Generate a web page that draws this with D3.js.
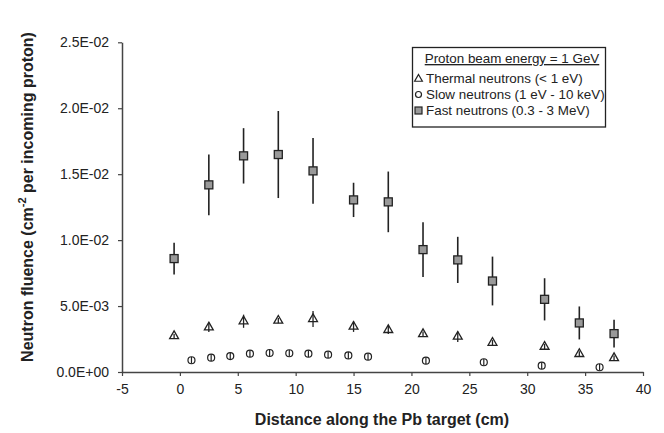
<!DOCTYPE html>
<html>
<head>
<meta charset="utf-8">
<script src="https://cdn.jsdelivr.net/npm/d3@7"></script>
<style>
  body { margin: 0; background: #fff; }
  svg { display: block; font-family: Arial, "Liberation Sans", sans-serif; }
</style>
</head>
<body>
<svg width="664" height="433"></svg>
<script>
// distance along the target (cm) and fluence (per cm2 per incoming proton)
var fastX   = [-0.5, 2.5, 5.5, 8.5, 11.5, 15, 18, 21, 24, 27, 31.5, 34.5, 37.5];
var fastY   = [8.6e-3, 14.19e-3, 16.39e-3, 16.49e-3, 15.25e-3, 13.05e-3, 12.9e-3, 9.28e-3, 8.5e-3, 6.9e-3, 5.51e-3, 3.72e-3, 2.91e-3];
var fastErr = [1.2e-3, 2.3e-3, 2.1e-3, 3.3e-3, 2.5e-3, 1.3e-3, 2.3e-3, 2.07e-3, 1.75e-3, 1.85e-3, 1.6e-3, 1.25e-3, 1.05e-3];

var thermX   = [-0.5, 2.5, 5.5, 8.5, 11.5, 15, 18, 21, 24, 27, 31.5, 34.5, 37.5];
var thermY   = [2.73e-3, 3.39e-3, 3.85e-3, 3.9e-3, 4.02e-3, 3.44e-3, 3.19e-3, 2.88e-3, 2.68e-3, 2.22e-3, 1.92e-3, 1.37e-3, 1.06e-3];
var thermErr = [0.15e-3, 0.35e-3, 0.5e-3, 0.2e-3, 0.6e-3, 0.4e-3, 0.3e-3, 0.2e-3, 0.4e-3, 0.2e-3, 0.2e-3, 0.2e-3, 0.2e-3];

var slowX   = [1, 2.7, 4.35, 6.05, 7.75, 9.45, 11.1, 12.8, 14.55, 16.25, 21.25, 26.25, 31.25, 36.25];
var slowY   = [0.89e-3, 1.09e-3, 1.21e-3, 1.39e-3, 1.44e-3, 1.42e-3, 1.39e-3, 1.31e-3, 1.26e-3, 1.16e-3, 0.86e-3, 0.74e-3, 0.48e-3, 0.36e-3];
var slowErr = [0.25e-3, 0.25e-3, 0.25e-3, 0.25e-3, 0.25e-3, 0.25e-3, 0.25e-3, 0.25e-3, 0.25e-3, 0.25e-3, 0.25e-3, 0.25e-3, 0.25e-3, 0.25e-3];

var xTicks = [-5, 0, 5, 10, 15, 20, 25, 30, 35, 40];
var yTicks = [0, 0.005, 0.01, 0.015, 0.02, 0.025];

var legendTitle = "Proton beam energy = 1 GeV";
var legendLabels = ["Thermal neutrons (< 1 eV)", "Slow neutrons (1 eV - 10 keV)", "Fast neutrons (0.3 - 3 MeV)"];

function zip(xs, ys, es) {
  return xs.map(function(x, i) { return {x: x, y: ys[i], e: es[i]}; });
}

function sciFormat(d) {
  if (d === 0) return "0.0E+00";
  var s = d.toExponential(1).split("e");
  var exp = +s[1];
  return s[0] + "E" + (exp < 0 ? "-" : "+") + (Math.abs(exp) < 10 ? "0" : "") + Math.abs(exp);
}

var svg = d3.select("svg");
var ink = "#222";

var x = d3.scaleLinear().domain([-5, 40]).range([122, 643]);
var y = d3.scaleLinear().domain([0, 0.025]).range([372, 42.3]);

// axes
var xAxis = svg.append("g")
    .attr("transform", "translate(0," + y(0) + ")")
    .call(d3.axisBottom(x).tickValues(xTicks).tickSize(4).tickSizeOuter(0).tickPadding(8)
      .tickFormat(function(d) { return String(d); }));

var yAxis = svg.append("g")
    .attr("transform", "translate(" + x(-5) + ",0)")
    .call(d3.axisLeft(y).tickValues(yTicks).tickSize(4).tickSizeOuter(0).tickPadding(9).tickFormat(sciFormat));

[xAxis, yAxis].forEach(function(a) {
  a.select(".domain").attr("stroke", "#444").attr("stroke-width", 1.5);
  a.selectAll(".tick line").attr("stroke", "#444").attr("stroke-width", 1.2);
  a.selectAll(".tick text")
    .attr("fill", ink)
    .style("font-size", "14px")
    .style("font-family", "Arial, 'Liberation Sans', sans-serif");
});

// axis titles
svg.append("text")
    .attr("x", 382)
    .attr("y", 425)
    .attr("text-anchor", "middle")
    .attr("fill", ink)
    .style("font-size", "16px")
    .style("font-weight", "bold")
    .text("Distance along the Pb target (cm)");

var yt = svg.append("text")
    .attr("transform", "translate(33,197) rotate(-90)")
    .attr("text-anchor", "middle")
    .attr("fill", ink)
    .style("font-size", "16px")
    .style("font-weight", "bold");
yt.append("tspan").text("Neutron fluence (cm");
yt.append("tspan").attr("dy", -7).style("font-size", "11px").text("-2");
yt.append("tspan").attr("dy", 7).text(" per incoming proton)");

var plot = svg.append("g");

function errorBars(data, width) {
  plot.append("g").selectAll("line")
    .data(data)
    .enter().append("line")
      .attr("x1", function(d) { return x(d.x); })
      .attr("x2", function(d) { return x(d.x); })
      .attr("y1", function(d) { return y(d.y - d.e); })
      .attr("y2", function(d) { return y(d.y + d.e); })
      .attr("stroke", ink)
      .attr("stroke-width", width);
}

// fast neutrons: bars behind the squares
var fast = zip(fastX, fastY, fastErr);
errorBars(fast, 1.6);
plot.append("g").selectAll("rect")
  .data(fast)
  .enter().append("rect")
    .attr("x", function(d) { return x(d.x) - 4; })
    .attr("y", function(d) { return y(d.y) - 4; })
    .attr("width", 8)
    .attr("height", 8)
    .attr("fill", "#999")
    .attr("stroke", ink)
    .attr("stroke-width", 1.3);

// thermal neutrons
var therm = zip(thermX, thermY, thermErr);
var tri = d3.symbol().type(d3.symbolTriangle).size(34);
plot.append("g").selectAll("path")
  .data(therm)
  .enter().append("path")
    .attr("d", tri)
    .attr("transform", function(d) { return "translate(" + x(d.x) + "," + y(d.y) + ")"; })
    .attr("fill", "#fff")
    .attr("stroke", ink)
    .attr("stroke-width", 1.3);
errorBars(therm, 1.3);

// slow neutrons
var slow = zip(slowX, slowY, slowErr);
plot.append("g").selectAll("circle")
  .data(slow)
  .enter().append("circle")
    .attr("cx", function(d) { return x(d.x); })
    .attr("cy", function(d) { return y(d.y); })
    .attr("r", 3.5)
    .attr("fill", "#fff")
    .attr("stroke", ink)
    .attr("stroke-width", 1.2);
errorBars(slow, 1.2);

// legend
var lg = svg.append("g");
lg.append("rect")
    .attr("x", 412.5).attr("y", 47.5)
    .attr("width", 193).attr("height", 79.5)
    .attr("fill", "#fff")
    .attr("stroke", ink)
    .attr("stroke-width", 1.3);

lg.append("text")
    .attr("x", 512).attr("y", 63)
    .attr("text-anchor", "middle")
    .attr("fill", ink)
    .style("font-size", "13.4px")
    .style("text-decoration", "underline")
    .text(legendTitle);

var rowY = [83, 99, 115];
legendLabels.forEach(function(lab, i) {
  var cy = rowY[i] - 4.5;
  if (i === 0) {
    lg.append("path").attr("d", d3.symbol().type(d3.symbolTriangle).size(26))
      .attr("transform", "translate(418.5," + (cy + 0.5) + ")")
      .attr("fill", "#fff").attr("stroke", ink).attr("stroke-width", 1.2);
  } else if (i === 1) {
    lg.append("circle").attr("cx", 418.5).attr("cy", cy).attr("r", 3)
      .attr("fill", "#fff").attr("stroke", ink).attr("stroke-width", 1.2);
  } else {
    lg.append("rect").attr("x", 415).attr("y", cy - 3.5).attr("width", 7).attr("height", 7)
      .attr("fill", "#999").attr("stroke", ink).attr("stroke-width", 1.2);
  }
  lg.append("text")
    .attr("x", 426).attr("y", rowY[i])
    .attr("fill", ink)
    .style("font-size", "13.4px")
    .text(lab);
});
</script>
</body>
</html>
